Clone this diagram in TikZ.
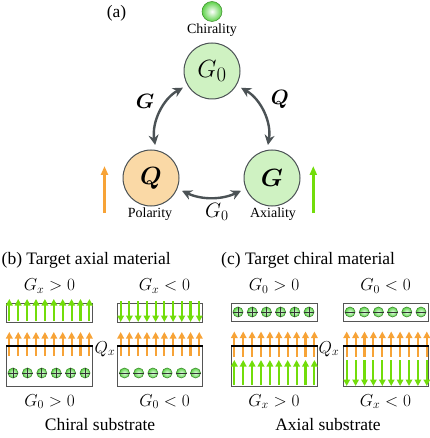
\documentclass[tikz,border=0pt]{standalone}
\usepackage{fontspec}
\setmainfont{Liberation Serif}
\usepackage{amsmath,bm}
\usetikzlibrary{arrows.meta}
\definecolor{cgreen}{HTML}{CFF2C2}
\definecolor{corange}{HTML}{FAD9A6}
\definecolor{agreen}{HTML}{72DD0A}
\definecolor{aorange}{HTML}{F7A337}
\definecolor{dgray}{HTML}{4B5255}
\definecolor{bgray}{HTML}{555555}
\definecolor{ballgreen}{HTML}{5ED24A}
\definecolor{balledge}{HTML}{3E8E2E}
\tikzset{
  big/.style={circle, draw=dgray, line width=1pt, minimum size=56pt, inner sep=0pt, font=\fontsize{30}{34}\selectfont},
  cyc/.style={line width=2.4pt, draw=dgray, shorten <=5pt, shorten >=5pt, {Stealth[length=10pt,width=10pt]}-{Stealth[length=10pt,width=10pt]}},
  lbl/.style={font=\fontsize{14}{16}\selectfont, inner sep=0pt},
  ttl/.style={font=\fontsize{17.5}{20}\selectfont, inner sep=0pt},
  mth/.style={font=\fontsize{17}{20}\selectfont, inner sep=0pt},
  amth/.style={font=\fontsize{20}{24}\selectfont, inner sep=0pt},
  garr/.style={draw=agreen, line width=2.1pt, -{Triangle[length=6.5pt,width=6.5pt]}},
  oarr/.style={draw=aorange, line width=2.1pt, -{Triangle[length=6.5pt,width=6.5pt]}},
  bigg/.style={draw=agreen, line width=2.4pt, -{Triangle[length=9pt,width=7pt]}},
  bigo/.style={draw=aorange, line width=2.4pt, -{Triangle[length=9pt,width=7pt]}},
  boxx/.style={draw=bgray, line width=1.3pt, inner sep=0pt, anchor=north west},
  chg/.style={circle, inner sep=0pt, minimum size=10pt, draw=balledge, line width=0.6pt, inner color=green!10, outer color=ballgreen},
  sgn/.style={draw=black!80, line width=0.7pt},
}
\begin{document}
\begin{tikzpicture}[x=1pt,y=-1pt]
\useasboundingbox (0,0) rectangle (429,438);
% ---------- panel (a)
\node[ttl] (ta) at (116.5,13) {(a)};
\node[circle, minimum size=20pt, inner sep=0pt, draw=balledge, line width=0.5pt, inner color=white, outer color=ballgreen] (ball) at (212,11.5) {};
\node[lbl] (chir) at (212,30.5) {Chirality};
\node[big, fill=cgreen] (G0) at (212,71) {$G_0$};
\node[big, fill=corange] (Q) at (151,178) {$\bm{Q}$};
\node[big, fill=cgreen] (G) at (272,178) {$\bm{G}$};
\node[lbl] (pol) at (150,214) {Polarity};
\node[lbl] (axi) at (273,214) {Axiality};
\draw[cyc] (G0.210) to[bend right=35] (Q.80);
\draw[cyc] (G0.330) to[bend left=35] (G.100);
\draw[cyc] (Q.-22) to[bend right=25] (G.202);
\node[amth] (lG) at (145,101) {$\bm{G}$};
\node[amth] (lQ) at (280,99) {$\bm{Q}$};
\node[amth] (lG0) at (217,212) {$G_0$};
\coordinate (po1) at (104.5,213);
\coordinate (po2) at (104.5,166);
\coordinate (pg1) at (313.3,213);
\coordinate (pg2) at (313.3,166);
\draw[bigo] (po1) -- (po2);
\draw[bigg] (pg1) -- (pg2);
% ---------- panel (b)
\node[ttl, anchor=west] (tb) at (1.5,260) {(b) Target axial material};
\node[mth] (bl1) at (49.5,286) {$G_x>0$};
\node[mth] (bl2) at (164.5,286) {$G_x<0$};
\node[mth] (bl3) at (49.5,401.5) {$G_0>0$};
\node[mth] (bl4) at (164.5,401.5) {$G_0<0$};
\node[ttl] (bl5) at (100,425) {Chiral substrate};
\node[mth] (bq) at (105,349) {$Q_x$};
\node[boxx, minimum width=86pt, minimum height=18.5pt] (bUL) at (6,303) {};
\node[boxx, minimum width=85pt, minimum height=18.5pt] (bUR) at (117,303) {};
\node[boxx, minimum width=86pt, minimum height=40pt] (bLL) at (6,346) {};
\node[boxx, minimum width=85pt, minimum height=40pt] (bLR) at (117,346) {};
\foreach \i in {0,...,9}{
  \draw[garr] (9.3+8.9*\i,321) -- (9.3+8.9*\i,299);
  \draw[garr] (120.7+8.73*\i,301) -- (120.7+8.73*\i,322);
  \draw[oarr] (9.3+8.9*\i,356) -- (9.3+8.9*\i,332);
  \draw[oarr] (120.7+8.73*\i,356) -- (120.7+8.73*\i,332);
}
\draw[black, line width=1.3pt] (bLL.north west) -- (bLL.north east);
\draw[black, line width=1.3pt] (bLR.north west) -- (bLR.north east);
\foreach \i in {0,...,5}{
  \node[chg] (bp\i) at (13+14.4*\i,373) {};
  \draw[sgn] (bp\i.west) -- (bp\i.east) (bp\i.north) -- (bp\i.south);
  \node[chg] (bm\i) at (124.5+14.2*\i,373) {};
  \draw[sgn] (bm\i.west) -- (bm\i.east);
}
% ---------- panel (c)
\node[ttl, anchor=west] (tc) at (221,260) {(c) Target chiral material};
\node[mth] (cl1) at (274,286) {$G_0>0$};
\node[mth] (cl2) at (385.5,286) {$G_0<0$};
\node[mth] (cl3) at (274,401.5) {$G_x>0$};
\node[mth] (cl4) at (385.5,401.5) {$G_x<0$};
\node[ttl] (cl5) at (328,425) {Axial substrate};
\node[mth] (cq) at (329,349) {$Q_x$};
\node[boxx, minimum width=86pt, minimum height=17.5pt] (cUL) at (231,303) {};
\node[boxx, minimum width=85pt, minimum height=17.5pt] (cUR) at (343,303) {};
\node[boxx, minimum width=86pt, minimum height=40pt] (cLL) at (231,346) {};
\node[boxx, minimum width=85pt, minimum height=40pt] (cLR) at (343,346) {};
\foreach \i in {0,...,9}{
  \draw[oarr] (234.3+8.9*\i,356.5) -- (234.3+8.9*\i,331.5);
  \draw[oarr] (346.7+8.9*\i,356.5) -- (346.7+8.9*\i,331.5);
  \draw[garr] (234.3+8.9*\i,385) -- (234.3+8.9*\i,360);
  \draw[garr] (346.7+8.9*\i,360) -- (346.7+8.9*\i,386);
}
\draw[black, line width=1.3pt] (cLL.north west) -- (cLL.north east);
\draw[black, line width=1.3pt] (cLR.north west) -- (cLR.north east);
\foreach \i in {0,...,5}{
  \node[chg] (cp\i) at (238+14.2*\i,312) {};
  \draw[sgn] (cp\i.west) -- (cp\i.east) (cp\i.north) -- (cp\i.south);
  \node[chg] (cm\i) at (350+14.2*\i,312) {};
  \draw[sgn] (cm\i.west) -- (cm\i.east);
}
\end{tikzpicture}
\end{document}
